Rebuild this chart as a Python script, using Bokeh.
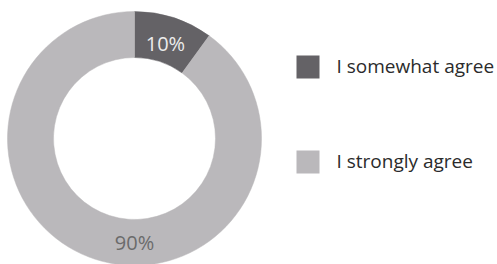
import math
from bokeh.plotting import figure
from bokeh.models import ColumnDataSource, Range1d
from bokeh.core.properties import value
from bokeh.embed import file_html
from bokeh.resources import INLINE

categories = ["I somewhat agree", "I strongly agree"]
values = [10, 90]
labels = ["10%", "90%"]
colors = ["#646266", "#bab8bb"]
label_colors = ["#ececec", "#6b6b6b"]

W, H = 497, 264
p = figure(width=W, height=H, output_backend="svg", toolbar_location=None,
           x_range=Range1d(0, W), y_range=Range1d(0, H), min_border=0)
p.axis.visible = False
p.grid.visible = False
p.outline_line_color = None
p.background_fill_color = "white"

cx, cy = 134, 126
r_in, r_out = 81, 127
total = sum(values)
starts, ends, lx, ly = [], [], [], []
acc = 0
for i, v in enumerate(values):
    a0 = math.pi / 2 - 2 * math.pi * acc / total
    a1 = math.pi / 2 - 2 * math.pi * (acc + v) / total
    starts.append(a0)
    ends.append(a1)
    mid = (a0 + a1) / 2
    if v / total > 0.5:
        mid = -math.pi / 2
        rr = 104
    else:
        rr = 100
    lx.append(cx + rr * math.cos(mid))
    ly.append(cy + rr * math.sin(mid))
    acc += v

src = ColumnDataSource(dict(start=starts, end=ends, color=colors,
                            lx=lx, ly=ly, label=labels, lc=label_colors))
p.annular_wedge(x=cx, y=cy, inner_radius=r_in, outer_radius=r_out,
                start_angle="start", end_angle="end", direction="clock",
                fill_color="color", line_color="color", line_width=0.5, source=src)
p.text(x="lx", y="ly", text="label", text_color="lc", text_align="center",
       text_baseline="middle", text_font=value("Open Sans"),
       text_font_size="20px", source=src)

# legend
leg_y = [197.5, 102.5]
p.rect(x=[307.5, 307.5], y=leg_y, width=23, height=23, fill_color=colors,
       line_color=None)
p.text(x=[336, 336], y=[y + 1.5 for y in leg_y], text=categories,
       text_color="#2b2b2b", text_align="left", text_baseline="middle",
       text_font=value("Open Sans"), text_font_size="19px")

open("out.html", "w").write(file_html(p, INLINE))
